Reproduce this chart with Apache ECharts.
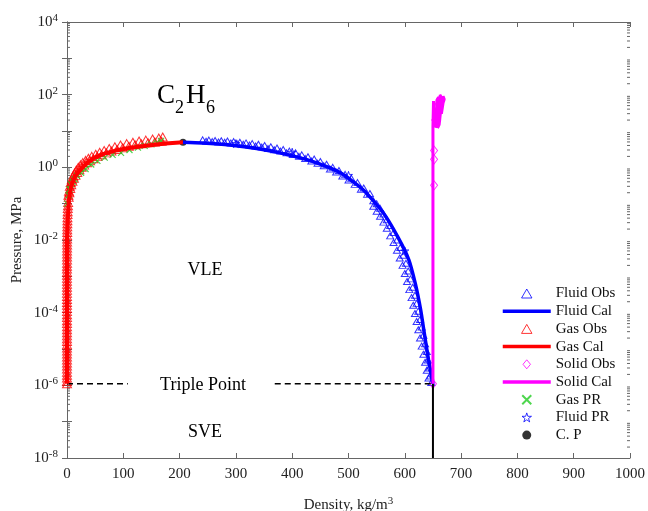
<!DOCTYPE html>
<html>
<head>
<meta charset="utf-8">
<script src="https://cdn.jsdelivr.net/npm/echarts@6/dist/echarts.min.js"></script>
<style>
  html, body { margin: 0; padding: 0; background: #fff; }
  #chart { width: 648px; height: 511px; }
</style>
</head>
<body>
<div id="chart"></div>
<script>
// 数据
const yTickExps = [-8, -7, -6, -5, -4, -3, -2, -1, 0, 1, 2, 3, 4]

// Fluid (liquid branch) calculated
const fluidCalRho = [206, 240, 289, 340, 378, 436, 484, 525, 561, 587, 607, 619, 628, 635, 642, 650]
const fluidCalP = [4.87, 4.65, 4.1, 3.25, 2.5, 1.46, 0.73, 0.25, 0.058, 0.0126, 0.0029, 6e-4, 1.23e-4, 2.5e-5, 5.2e-6, 1.1e-6]

// Fluid observed
const fluidObsRho = [
  241, 252, 263, 274, 285, 296, 307, 318, 329, 340, 351, 362, 373, 384, 395, 406, 417, 428, 439, 450, 461, 472, 483, 494, 505, 516, 527, 538,
  247, 258, 269, 280, 291, 302, 313, 324, 335, 346, 357, 368, 379, 390, 401, 412, 423, 434, 445, 456, 467, 478, 489, 500, 511, 522, 533, 544,
  550, 556, 562, 568, 574, 580, 586, 592, 597, 602, 606, 610, 614, 618, 621, 624, 627, 630, 633, 636, 639, 641, 643, 645, 647,
  544, 550, 556, 562, 568, 574, 580, 586, 591, 596, 600, 604, 608, 612, 615, 618, 621, 624, 627, 630, 633, 636, 639, 642]
const fluidObsP = [
  5.7, 5.6, 5.5, 5.4, 5.3, 5.1, 4.9, 4.7, 4.5, 4.3, 4.0, 3.7, 3.4, 3.1, 2.8, 2.5, 2.2, 1.95, 1.7, 1.45, 1.22, 1.0, 0.82, 0.64, 0.5, 0.38, 0.27, 0.19,
  5.2, 5.1, 5.0, 4.9, 4.7, 4.5, 4.3, 4.1, 3.85, 3.6, 3.3, 3.05, 2.8, 2.5, 2.25, 2.0, 1.75, 1.5, 1.3, 1.1, 0.9, 0.74, 0.58, 0.45, 0.34, 0.25, 0.18, 0.12,
  0.1, 0.075, 0.052, 0.036, 0.025, 0.016, 0.01, 0.0062, 0.0038, 0.0023, 0.0014, 8.5e-4, 5e-4, 3e-4, 1.8e-4, 1.1e-4, 6.5e-5, 4e-5, 2.4e-5, 1.4e-5, 8.5e-6, 5e-6, 3e-6, 1.8e-6, 1.2e-6,
  0.085, 0.062, 0.045, 0.031, 0.021, 0.013, 0.0085, 0.0052, 0.0032, 0.002, 0.0012, 7.2e-4, 4.3e-4, 2.6e-4, 1.6e-4, 9.5e-5, 5.7e-5, 3.4e-5, 2e-5, 1.2e-5, 7.2e-6, 4.3e-6, 2.6e-6, 1.6e-6]

// Gas (vapour branch) calculated
const gasCalRho = [0, 0, 0, 0, 0, 0.3, 0.8, 1.6, 3.5, 7.6, 14, 25, 36, 49, 65, 84.5, 110, 143.7, 175, 206]
const gasCalP = [1.1e-6, 1e-5, 1e-4, 1e-3, 0.01, 0.015, 0.025, 0.045, 0.13, 0.31, 0.55, 0.9, 1.35, 1.85, 2.35, 2.85, 3.4, 4.0, 4.5, 4.87]

// Gas observed
const gasObsRho = [
  0, 0, 0, 0, 0, 0, 0, 0, 0, 0, 0, 0, 0, 0, 0, 0, 0, 0, 0, 0, 0, 0, 0, 0, 0, 0, 0, 0, 0, 0, 0, 0, 0, 0, 0, 0,
  0, 0, 0, 0, 0.1, 0.1, 0.1, 0.1, 0.1, 0.2, 0.2, 0.2, 0.3, 0.3, 0.4, 0.4, 0.5, 0.6, 0.7, 0.8, 1.0, 1.2, 1.4, 1.7, 2.0,
  2.5, 3.5, 5, 6.5, 8.5, 11, 13.5, 16.5, 20, 24, 28, 33, 38, 44, 51, 58, 66, 75, 85, 95, 106, 117, 128, 140, 152, 163, 170,
  3, 4.2, 5.8, 7.5, 9.7, 12.3, 15, 18.2, 22, 26, 30.5, 35.5, 41, 47, 54, 61.5, 70, 79, 89, 99, 110, 121, 132, 144, 156, 168]
const gasObsP = [
  1.1e-6, 1.3e-6, 1.6e-6, 1.9e-6, 2.3e-6, 2.8e-6, 3.4e-6, 4.1e-6, 5e-6, 6e-6, 7.3e-6, 8.8e-6, 1.07e-5, 1.3e-5, 1.6e-5, 1.9e-5, 2.3e-5, 2.8e-5,
  3.4e-5, 4.1e-5, 5e-5, 6e-5, 7.3e-5, 8.8e-5, 1.07e-4, 1.3e-4, 1.6e-4, 1.9e-4, 2.3e-4, 2.8e-4, 3.4e-4, 4.1e-4, 5e-4, 6e-4, 7.3e-4, 8.8e-4,
  1.07e-3, 1.3e-3, 1.6e-3, 1.9e-3, 2.3e-3, 2.8e-3, 3.4e-3, 4.1e-3, 5e-3, 6e-3, 7.3e-3, 8.8e-3, 0.0107, 0.013, 0.016, 0.019, 0.023, 0.028,
  0.034, 0.041, 0.05, 0.06, 0.073, 0.088, 0.107,
  0.17, 0.22, 0.3, 0.38, 0.47, 0.58, 0.7, 0.84, 1.0, 1.17, 1.35, 1.55, 1.78, 2.0, 2.3, 2.6, 2.9, 3.3, 3.7, 4.1, 4.5, 4.9, 5.3, 5.6, 6.0, 6.4, 6.8,
  0.15, 0.2, 0.26, 0.33, 0.41, 0.5, 0.6, 0.72, 0.86, 1.0, 1.15, 1.33, 1.52, 1.73, 1.97, 2.22, 2.5, 2.8, 3.1, 3.45, 3.8, 4.15, 4.45, 4.75, 5.0, 5.2]

// Solid calculated / observed
const solidCalRho = [650, 650, 650, 651, 654, 653, 657, 657, 660, 660, 662, 663, 666, 665, 668, 670, 668, 664, 661, 658]
const solidCalP = [1.1e-6, 12, 14, 67, 60, 14, 13, 70, 85, 14, 20, 100, 95, 30, 60, 75, 90, 40, 15, 12]
const solidObsRho = [650, 652, 652, 652, 654, 657, 660, 663]
const solidObsP = [1.1e-6, 0.32, 1.66, 2.9, 20, 35, 55, 75]

// Peng-Robinson
const gasPRRho = [0.5, 3, 4.6, 7, 10, 13.5, 18, 25, 33, 43, 54, 67, 81, 96, 111, 126, 138, 150, 160, 167]
const gasPRP = [0.1, 0.17, 0.25, 0.34, 0.4, 0.47, 0.58, 0.71, 0.9, 1.2, 1.5, 1.85, 2.2, 2.5, 3.0, 3.5, 3.9, 4.3, 4.8, 5.3]
const fluidPRRho = [300, 400, 500, 600]
const fluidPRP = [4.5, 2.6, 0.6, 0.005]

// critical point, triple point
const cpRho = 206
const cpP = 4.87
const tripleP = 1.1e-6
const tripleRho = 650
const tripleDashLeft = [0, 108]
const tripleDashRight = [369, 650]

const FONT = 'Liberation Serif'
const zip = (a, b) => a.map((v, i) => [v, b[i]])

// 符号 (path symbols keep their shape in the legend)
const TRI = 'path://M5,0L10,8.66L0,8.66Z'
const DIA = 'path://M5,0L10,6L5,12L0,6Z'
const STAR = 'path://M5,0L6.2,3.6L10,3.6L6.9,5.9L8.1,9.5L5,7.3L1.9,9.5L3.1,5.9L0,3.6L3.8,3.6Z'
const CROSS = 'path://M0,0L10,10M0,10L10,0'

const minorTicks = []
yTickExps.slice(0, -1).forEach(e => {
  for (let m = 2; m <= 9; m++) minorTicks.push([0, m * Math.pow(10, e)])
})

const chart = echarts.init(document.getElementById('chart'))

const axisLineStyle = { color: '#666', width: 1 }
const logLabel = v => {
  const e = Math.round(Math.log10(v))
  return e % 2 === 0 ? '10{sup|' + e + '}' : ''
}
const supRich = { sup: { fontFamily: FONT, fontSize: 11, verticalAlign: 'top', padding: [0, 0, 8, 0] } }
const hideSym = { opacity: 0 }
const hollow = c => ({ color: 'transparent', borderColor: c, borderWidth: 1 })

chart.setOption({
  animation: false,
  grid: { left: 67, right: 18, top: 22, bottom: 53, outerBoundsMode: 'none' },
  legend: {
    orient: 'vertical',
    left: 501,
    top: 286,
    padding: 0,
    itemWidth: 48,
    itemHeight: 9,
    itemGap: 2.7,
    symbolKeepAspect: true,
    textStyle: { fontFamily: FONT, fontSize: 15, color: '#111' },
    data: [
      { name: 'Fluid Obs', itemStyle: hollow('#0000ff') },
      { name: 'Fluid Cal', itemStyle: hideSym, lineStyle: { width: 3.5 } },
      { name: 'Gas Obs', itemStyle: hollow('#ff0000') },
      { name: 'Gas Cal', itemStyle: hideSym, lineStyle: { width: 3.5 } },
      { name: 'Solid Obs', itemStyle: hollow('#ff00ff') },
      { name: 'Solid Cal', itemStyle: hideSym, lineStyle: { width: 3.5 } },
      'Gas PR',
      { name: 'Fluid PR', itemStyle: hollow('#0000ff') },
      'C. P'
    ]
  },
  xAxis: [
    {
      type: 'value',
      min: 0,
      max: 1000,
      interval: 100,
      axisLine: { lineStyle: axisLineStyle },
      axisTick: { inside: true, length: 5, lineStyle: axisLineStyle },
      splitLine: { show: false },
      axisLabel: { fontFamily: FONT, fontSize: 15, color: '#222', margin: 9, formatter: v => String(v) },
      name: 'Density, kg/m{sup|3}',
      nameLocation: 'middle',
      nameGap: 38,
      nameTextStyle: { fontFamily: FONT, fontSize: 15, color: '#222', rich: supRich }
    },
    {
      type: 'value',
      position: 'top',
      min: 0,
      max: 1000,
      interval: 100,
      axisLine: { lineStyle: axisLineStyle },
      axisTick: { inside: true, length: 5, lineStyle: axisLineStyle },
      axisLabel: { show: false },
      splitLine: { show: false }
    }
  ],
  yAxis: [
    {
      type: 'log',
      logBase: 10,
      min: 1e-8,
      max: 1e4,
      interval: 1,
      axisLine: { lineStyle: axisLineStyle },
      axisTick: { inside: true, length: 5, lineStyle: axisLineStyle },
      splitLine: { show: false },
      axisLabel: {
        formatter: logLabel,
        fontFamily: FONT, fontSize: 15, color: '#222', margin: 9,
        rich: supRich
      },
      name: 'Pressure, MPa',
      nameLocation: 'middle',
      nameGap: 42,
      nameMoveOverlap: false,
      nameTextStyle: { fontFamily: FONT, fontSize: 15, color: '#222' }
    },
    {
      type: 'log',
      logBase: 10,
      position: 'right',
      min: 1e-8,
      max: 1e4,
      interval: 1,
      axisLine: { lineStyle: axisLineStyle },
      axisTick: { inside: true, length: 5, lineStyle: axisLineStyle },
      axisLabel: { show: false },
      splitLine: { show: false }
    }
  ],
  graphic: [
    { type: 'text', x: 157, y: 96, style: { text: 'C', fontFamily: FONT, fontSize: 27, fill: '#000', verticalAlign: 'middle' } },
    { type: 'text', x: 175, y: 108, style: { text: '2', fontFamily: FONT, fontSize: 18, fill: '#000', verticalAlign: 'middle' } },
    { type: 'text', x: 186, y: 96, style: { text: 'H', fontFamily: FONT, fontSize: 27, fill: '#000', verticalAlign: 'middle' } },
    { type: 'text', x: 206, y: 108, style: { text: '6', fontFamily: FONT, fontSize: 18, fill: '#000', verticalAlign: 'middle' } },
    { type: 'text', x: 205, y: 270, style: { text: 'VLE', fontFamily: FONT, fontSize: 18, fill: '#000', align: 'center', verticalAlign: 'middle' } },
    { type: 'text', x: 203, y: 385, style: { text: 'Triple Point', fontFamily: FONT, fontSize: 18, fill: '#000', align: 'center', verticalAlign: 'middle' } },
    { type: 'text', x: 205, y: 432, style: { text: 'SVE', fontFamily: FONT, fontSize: 18, fill: '#000', align: 'center', verticalAlign: 'middle' } }
  ],
  series: [
    // 小刻度 minor log ticks on both sides
    {
      name: 'minor',
      type: 'custom',
      silent: true,
      data: minorTicks,
      renderItem (params, api) {
        const l = api.coord([0, api.value(1)])
        const r = api.coord([1000, api.value(1)])
        const st = { stroke: '#666', lineWidth: 1 }
        return {
          type: 'group',
          children: [
            { type: 'line', shape: { x1: l[0], y1: l[1], x2: l[0] + 3, y2: l[1] }, style: st },
            { type: 'line', shape: { x1: r[0], y1: r[1], x2: r[0] - 3, y2: r[1] }, style: st }
          ]
        }
      }
    },
    {
      name: 'triple',
      type: 'line',
      symbol: 'none',
      silent: true,
      lineStyle: { color: '#000', width: 1.5, type: [6, 4] },
      data: [[tripleDashLeft[0], tripleP], [tripleDashLeft[1], tripleP], '-', [tripleDashRight[0], tripleP], [tripleDashRight[1], tripleP]]
    },
    {
      name: 'sve',
      type: 'line',
      symbol: 'none',
      silent: true,
      lineStyle: { color: '#000', width: 2 },
      data: [[tripleRho, 1e-8], [tripleRho, tripleP]]
    },
    {
      name: 'Fluid PR',
      type: 'scatter',
      symbol: STAR,
      symbolSize: 8,
      itemStyle: hollow('#0000ff'),
      data: zip(fluidPRRho, fluidPRP)
    },
    {
      name: 'Gas Obs',
      type: 'scatter',
      symbol: TRI,
      symbolSize: [9, 8],
      itemStyle: hollow('#ff0000'),
      data: zip(gasObsRho, gasObsP)
    },
    {
      name: 'Gas Cal',
      type: 'line',
      symbol: 'none',
      lineStyle: { color: '#ff0000', width: 4 },
      itemStyle: { color: '#ff0000' },
      data: zip(gasCalRho, gasCalP)
    },
    {
      name: 'Gas PR',
      type: 'scatter',
      symbol: CROSS,
      symbolSize: 6,
      itemStyle: { color: 'transparent', borderColor: '#22cc22', borderWidth: 1.2 },
      data: zip(gasPRRho, gasPRP)
    },
    {
      name: 'Fluid Obs',
      type: 'scatter',
      symbol: TRI,
      symbolSize: [7, 6],
      itemStyle: hollow('#0000ff'),
      data: zip(fluidObsRho, fluidObsP)
    },
    {
      name: 'Fluid Cal',
      type: 'line',
      symbol: 'none',
      smooth: 0.2,
      lineStyle: { color: '#0000ff', width: 3.5 },
      itemStyle: { color: '#0000ff' },
      data: zip(fluidCalRho, fluidCalP)
    },
    {
      name: 'Solid Cal',
      type: 'line',
      symbol: 'none',
      lineStyle: { color: '#ff00ff', width: 3 },
      itemStyle: { color: '#ff00ff' },
      data: zip(solidCalRho, solidCalP)
    },
    {
      name: 'Solid Obs',
      type: 'scatter',
      symbol: DIA,
      symbolSize: [7, 9],
      itemStyle: hollow('#ff00ff'),
      data: zip(solidObsRho, solidObsP)
    },
    {
      name: 'C. P',
      type: 'scatter',
      symbol: 'circle',
      symbolSize: 7,
      itemStyle: { color: '#000' },
      data: [[cpRho, cpP]]
    }
  ]
})
</script>
</body>
</html>
